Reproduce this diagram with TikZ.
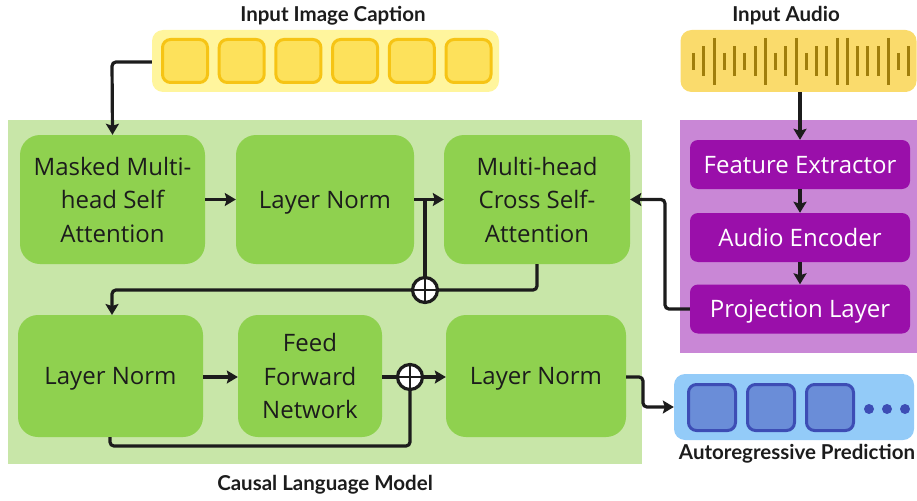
\documentclass[tikz,border=0pt]{standalone}
\usepackage{fontspec}
\setmainfont{Open Sans}
\newfontfamily\titlefont{Lato}
\usetikzlibrary{arrows.meta}
\definecolor{gbg}{HTML}{C8E6A8}
\definecolor{gnode}{HTML}{8FD14F}
\definecolor{pbg}{HTML}{C987D6}
\definecolor{pnode}{HTML}{9A0FAA}
\definecolor{ybg}{HTML}{FFF59D}
\definecolor{ysq}{HTML}{FDE15B}
\definecolor{yedge}{HTML}{F6C415}
\definecolor{abg}{HTML}{FADB6C}
\definecolor{abar}{HTML}{A07E0B}
\definecolor{bbg}{HTML}{93CBF8}
\definecolor{bsq}{HTML}{6A8DD8}
\definecolor{bedge}{HTML}{3D4DB5}
\definecolor{ink}{HTML}{1C1C1C}
\newcommand{\lowr}[1]{\raisebox{-8.6pt}[0pt][0pt]{#1}}
\tikzset{
  gbox/.style={draw=none, fill=gnode, rounded corners=20, inner sep=0pt, align=center,
    text=ink, font=\fontsize{24}{33.5}\selectfont},
  pbox/.style={draw=none, fill=pnode, rounded corners=8, inner sep=0pt, align=center,
    text=white, font=\fontsize{24}{28}\selectfont, minimum width=220, minimum height=49},
  ttl/.style={font=\titlefont\fontsize{20.5}{22}\selectfont\bfseries, text=ink, inner sep=0pt, anchor=base},
  conn/.style={line width=3.2pt, draw=ink, rounded corners=4},
  arr/.style={conn, -{Stealth[length=11pt,width=13pt,inset=2pt]}},
  plus/.style={circle, draw=ink, fill=white, line width=3.2pt, minimum size=25pt, inner sep=0pt,
    path picture={\draw[ink, line width=2.6pt] (path picture bounding box.north) -- (path picture bounding box.south)
      (path picture bounding box.west) -- (path picture bounding box.east);}},
  ysq/.style={draw=yedge, fill=ysq, line width=3pt, rounded corners=8, minimum width=45pt, minimum height=43pt, inner sep=0pt},
  bsq/.style={draw=bedge, fill=bsq, line width=3pt, rounded corners=8, minimum width=47pt, minimum height=46pt, inner sep=0pt},
  bar/.style={draw=abar, line width=3pt},
  dot/.style={circle, fill=bedge, minimum size=10pt, inner sep=0pt}
}
\begin{document}
\begin{tikzpicture}[x=1pt,y=-1pt]
\useasboundingbox (0,0) rectangle (917,500);
% backgrounds
\node[fill=gbg, minimum width=634, minimum height=344, inner sep=0pt] (lm) at (325,292) {};
\node[fill=pbg, minimum width=237, minimum height=233, inner sep=0pt] (pbg) at (798.5,236.5) {};
% caption
\node[fill=ybg, rounded corners=11, minimum width=347, minimum height=62, inner sep=0pt] (cap) at (325.5,61) {};
\foreach \i in {0,...,5} {
  \node[ysq] (c\i) at ({185+56.7*\i},61) {};
}
\node[ttl] (capt) at (333,22) {Input Image Caption};
% audio
\node[fill=abg, rounded corners=11, minimum width=236, minimum height=62, inner sep=0pt] (aud) at (798.5,61) {};
\foreach \x/\h [count=\k] in {0/17,1/30,2/47,3/17,4/30,5/17,6/30,7/47,8/17,9/30,10/47,11/17,12/30,13/30,14/47,15/47,16/30,17/30,18/30,19/47,20/17,21/30} {
  \draw[bar] ({693.5+10.25*\x},{61.5-\h/2}) -- ({693.5+10.25*\x},{61.5+\h/2});
}
\node[ttl] (audt) at (786,22) {Input Audio};
% green nodes
\node[gbox, minimum width=185, minimum height=129] (mmsa) at (112.5,199.5) {Masked Multi-\\head Self\\Attention};
\node[gbox, minimum width=178, minimum height=129] (ln1) at (325,199.5) {\lowr{Layer Norm}};
\node[gbox, minimum width=186, minimum height=129] (cross) at (537,199.5) {Multi-head\\Cross Self-\\Attention};
\node[gbox, minimum width=185, minimum height=122] (ln2) at (110.5,376) {\lowr{Layer Norm}};
\node[gbox, minimum width=144, minimum height=122] (ffn) at (310,376) {Feed\\Forward\\Network};
\node[gbox, minimum width=180, minimum height=122] (ln3) at (536,376) {\lowr{Layer Norm}};
% purple nodes
\node[pbox] (fe) at (800,164.5) {\lowr{Feature Extractor}};
\node[pbox] (ae) at (800,237.5) {\lowr{Audio Encoder}};
\node[pbox] (pl) at (800,309) {\lowr{Projection Layer}};
% output
\node[fill=bbg, rounded corners=11, minimum width=240, minimum height=66, inner sep=0pt] (out) at (794,407) {};
\node[bsq] (o1) at (712,407.5) {};
\node[bsq] (o2) at (771,407.5) {};
\node[bsq] (o3) at (830,407.5) {};
\node[dot] (d1) at (869,409) {};
\node[dot] (d2) at (887,409) {};
\node[dot] (d3) at (905,409) {};
\node[ttl] (outt) at (797,459) {Autoregressive Prediction};
\node[ttl] (lmt) at (325,490) {Causal Language Model};
% plus nodes
\node[plus] (p1) at (425,290) {};
\node[plus] (p2) at (410,377) {};
% connectors
\coordinate (k1) at (112,62);
\draw[arr] (cap.west |- 0,62) -- (k1) -- (mmsa.north);
\draw[arr] (aud.south -| fe.north) -- (fe.north);
\draw[arr] (fe) -- (ae);
\draw[arr] (ae) -- (pl);
\draw[arr] (mmsa.east) -- (ln1.west);
\draw[arr] (ln1.east) -- (cross.west);
\draw[conn] (425,199.5) -- (p1.north);
\draw[conn] (cross.south) -- (537,290) -- (p1.east);
\coordinate (k2) at (112,290);
\draw[arr] (p1.west) -- (k2) -- (112,315);
\draw[arr] (ln2.east |- 0,377) -- (ffn.west |- 0,377);
\draw[conn] (ffn.east |- 0,377) -- (p2.west);
\draw[arr] (p2.east) -- (ln3.west |- 0,377);
\draw[conn] (110,437) -- (110,446) -- (410,446) -- (p2.south);
\draw[arr] (ln3.east |- 0,377) -- (643,377) -- (643,407) -- (out.west);
\draw[arr] (pl.west) -- (665,309) -- (665,199.5) -- (cross.east);
\end{tikzpicture}
\end{document}
